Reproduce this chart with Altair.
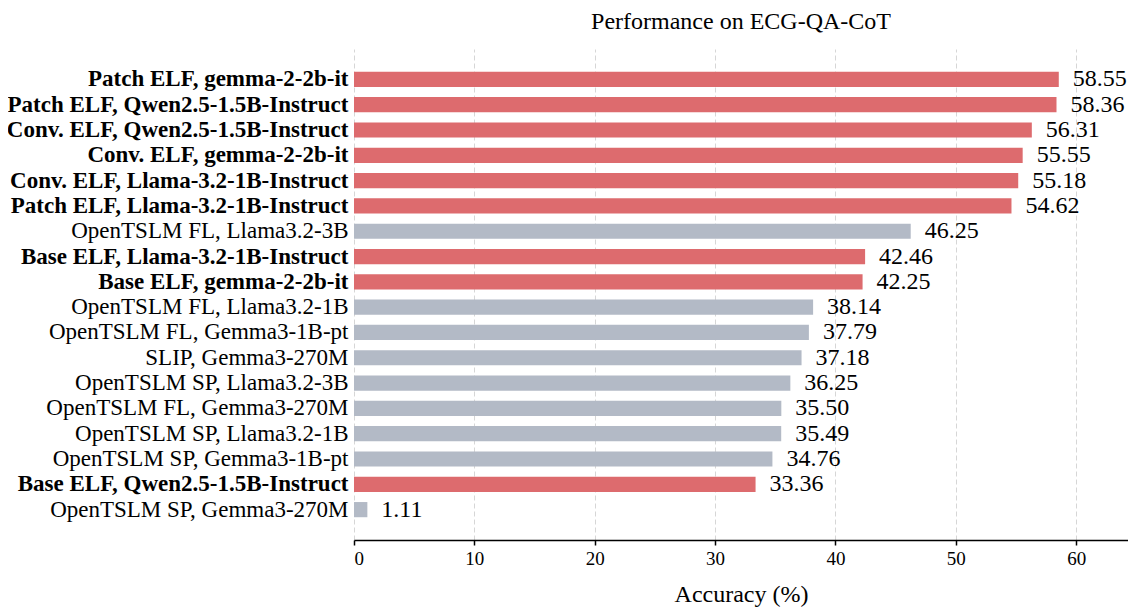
import altair as alt
import pandas as pd

labels = [
    "Patch ELF, gemma-2-2b-it",
    "Patch ELF, Qwen2.5-1.5B-Instruct",
    "Conv. ELF, Qwen2.5-1.5B-Instruct",
    "Conv. ELF, gemma-2-2b-it",
    "Conv. ELF, Llama-3.2-1B-Instruct",
    "Patch ELF, Llama-3.2-1B-Instruct",
    "OpenTSLM FL, Llama3.2-3B",
    "Base ELF, Llama-3.2-1B-Instruct",
    "Base ELF, gemma-2-2b-it",
    "OpenTSLM FL, Llama3.2-1B",
    "OpenTSLM FL, Gemma3-1B-pt",
    "SLIP, Gemma3-270M",
    "OpenTSLM SP, Llama3.2-3B",
    "OpenTSLM FL, Gemma3-270M",
    "OpenTSLM SP, Llama3.2-1B",
    "OpenTSLM SP, Gemma3-1B-pt",
    "Base ELF, Qwen2.5-1.5B-Instruct",
    "OpenTSLM SP, Gemma3-270M",
]
accuracy = [58.55, 58.36, 56.31, 55.55, 55.18, 54.62, 46.25, 42.46, 42.25,
            38.14, 37.79, 37.18, 36.25, 35.50, 35.49, 34.76, 33.36, 1.11]
groups = ["ELF" if "ELF" in l else "Baseline" for l in labels]

df = pd.DataFrame({"model": labels, "acc": accuracy, "group": groups})

FONT = "Liberation Serif"

y = alt.Y(
    "model:N",
    sort=labels,
    scale=alt.Scale(paddingInner=0.4, paddingOuter=0.9),
    axis=alt.Axis(
        title=None,
        domain=False,
        ticks=False,
        grid=False,
        labelPadding=6,
        labelFont=FONT,
        labelFontSize=23,
        labelColor="black",
        labelLimit=400,
        labelFontWeight={
            "condition": {"test": "indexof(datum.value, 'ELF') >= 0", "value": "bold"},
            "value": "normal",
        },
    ),
)

x = alt.X(
    "acc:Q",
    scale=alt.Scale(domain=[0, 64.3], nice=False, zero=True),
    axis=alt.Axis(
        title="Accuracy (%)",
        titleFont=FONT,
        titleFontSize=24,
        titleFontWeight="normal",
        titleColor="black",
        titlePadding=14,
        values=[0, 10, 20, 30, 40, 50, 60],
        format="d",
        labelFont=FONT,
        labelFontSize=19,
        labelColor="black",
        labelPadding=4,
        domainColor="black",
        domainWidth=1.5,
        tickColor="black",
        tickSize=5,
        tickWidth=1.5,
        grid=True,
        gridColor="#d6d6d6",
        gridDash=[5, 3],
        gridWidth=1,
    ),
)

bars = alt.Chart(df).mark_bar(opacity=1).encode(
    x=x,
    y=y,
    color=alt.Color(
        "group:N",
        scale=alt.Scale(domain=["ELF", "Baseline"], range=["#DD6B6E", "#B3BAC6"]),
        legend=None,
    ),
)

text = alt.Chart(df).mark_text(
    align="left", baseline="middle", dx=14, font=FONT, fontSize=24, color="black"
).encode(
    x=alt.X("acc:Q"),
    y=alt.Y("model:N", sort=labels),
    text=alt.Text("acc:Q", format=".2f"),
)

chart = (
    alt.layer(bars, text)
    .properties(
        width=774,
        height=491,
        padding={"left": 346, "top": 41, "right": 0, "bottom": 69},
        autosize=alt.AutoSizeParams(type="none"),
        title=alt.TitleParams(
            "Performance on ECG-QA-CoT",
            font=FONT,
            fontSize=24,
            fontWeight="normal",
            color="black",
            anchor="middle",
            offset=15,
        ),
    )
    .configure_view(stroke=None)
)

chart.save("out.html", embed_options={"renderer": "svg", "actions": False})
